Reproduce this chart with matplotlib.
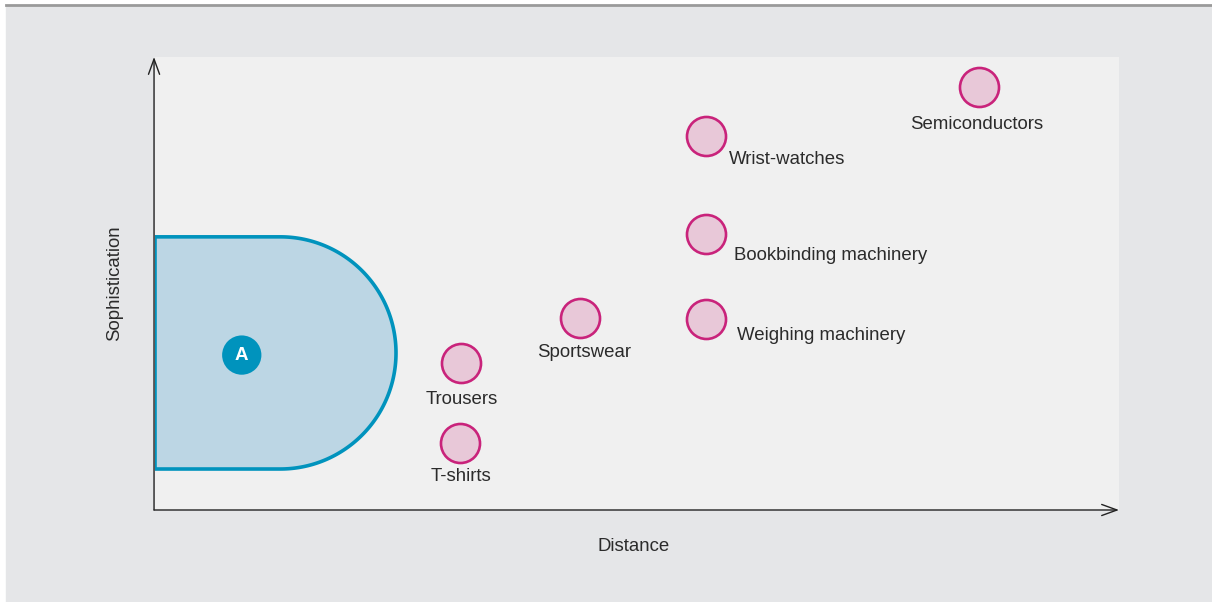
"""
Product space sketch: distance vs sophistication, with home region A.
"""
import matplotlib
matplotlib.use("Agg")
import matplotlib.pyplot as plt
import numpy as np
from matplotlib.patches import Rectangle, Polygon
from matplotlib.lines import Line2D

plt.rcParams["font.family"] = ["Liberation Sans", "DejaVu Sans"]

# ---------------------------------------------------------------------------
# Data (0-100 scale on both axes)
# ---------------------------------------------------------------------------
products = ["Trousers", "T-shirts", "Sportswear", "Wrist-watches",
            "Bookbinding machinery", "Weighing machinery", "Semiconductors"]
distance = [31.7, 31.6, 44.1, 57.2, 57.2, 57.2, 85.5]
sophistication = [32.5, 14.8, 42.4, 82.6, 60.9, 42.2, 93.4]

# home region A: flat part to x=13, then half circle to x=25, y 9..60
region_x_flat = 13.0
region_x_max = 25.0
region_y_low = 9.05
region_y_high = 60.3
region_label_xy = (9.0, 34.2)

# label placement (offset in points from circle centre, ha)
LABEL_LAYOUT = {
    "Trousers":              ((1, -26.2), "center"),
    "T-shirts":              ((1, -24.2), "center"),
    "Sportswear":            ((3, -25), "center"),
    "Wrist-watches":         ((16, -17), "left"),
    "Bookbinding machinery": ((20, -15.2), "left"),
    "Weighing machinery":    ((22, -11.8), "left"),
    "Semiconductors":        ((-2, -26.8), "center"),
}

COL_BG = "#e5e6e8"
COL_PANEL = "#f0f0f0"
COL_DOT_EDGE = "#c9237b"
COL_DOT_FILL = "#e8c8d8"
COL_REGION = "#bcd6e4"
COL_REGION_EDGE = "#0093bd"
COL_TEXT = "#2b2b2b"
FS = 13.4

W, H = 1212, 602
fig = plt.figure(figsize=(W / 100, H / 100), dpi=100, facecolor="white")

# outer grey box and top rule
fig.patches.append(Rectangle((6 / W, 0), 1 - 6 / W, 1 - 6 / H,
                             transform=fig.transFigure, color=COL_BG, zorder=-10))
fig.lines.append(Line2D([6 / W, 1], [1 - 5 / H, 1 - 5 / H], transform=fig.transFigure,
                        color="#9a9a9a", lw=2, zorder=-5))

ax = fig.add_axes([155 / W, (H - 510) / H, (1119 - 155) / W, (510 - 57) / H])
ax.set_facecolor(COL_PANEL)
ax.set_xlim(0, 100)
ax.set_ylim(0, 100)
for s in ax.spines.values():
    s.set_visible(False)
ax.set_xticks([])
ax.set_yticks([])

# axis arrows
arrow_kw = dict(arrowstyle="->,head_length=1.1,head_width=0.4", color="#222222", lw=1.0,
                shrinkA=0, shrinkB=0)
ax.annotate("", xy=(1.0, 0), xytext=(-0.001, 0), xycoords="axes fraction",
            arrowprops=arrow_kw, annotation_clip=False, zorder=6)
ax.annotate("", xy=(-0.001, 1.0), xytext=(-0.001, 0), xycoords="axes fraction",
            arrowprops=arrow_kw, annotation_clip=False, zorder=6)

ax.text(0.497, -0.08, "Distance", transform=ax.transAxes, ha="center", va="center",
        fontsize=FS, color=COL_TEXT)
ax.text(-0.042, 0.5, "Sophistication", transform=ax.transAxes, ha="center", va="center",
        rotation=90, fontsize=FS, color=COL_TEXT)

# home region: true half circle in pixels
ry = (region_y_high - region_y_low) / 2
yc = (region_y_low + region_y_high) / 2
rx = region_x_max - region_x_flat
t = np.linspace(np.pi / 2, -np.pi / 2, 180)
pts = [(0, region_y_low), (0, region_y_high)]
pts += list(zip(region_x_flat + rx * np.cos(t), yc + ry * np.sin(t)))
ax.add_patch(Polygon(pts, closed=True, facecolor=COL_REGION, edgecolor=COL_REGION_EDGE,
                     lw=2.6, joinstyle="round", zorder=2))
ax.scatter([region_label_xy[0]], [region_label_xy[1]], s=800, color=COL_REGION_EDGE,
           edgecolors="none", zorder=3)
ax.text(region_label_xy[0], region_label_xy[1], "A", ha="center", va="center",
        fontsize=13.5, fontweight="bold", color="white", zorder=4)

# products
ax.scatter(distance, sophistication, s=790, facecolor=COL_DOT_FILL,
           edgecolors=COL_DOT_EDGE, linewidths=1.9, zorder=4)
for name, x, y in zip(products, distance, sophistication):
    off, ha = LABEL_LAYOUT[name]
    ax.annotate(name, (x, y), xytext=off, textcoords="offset points", ha=ha, va="center",
                fontsize=FS, color=COL_TEXT, zorder=5)

fig.savefig("out.png", dpi=100, facecolor=fig.get_facecolor())
